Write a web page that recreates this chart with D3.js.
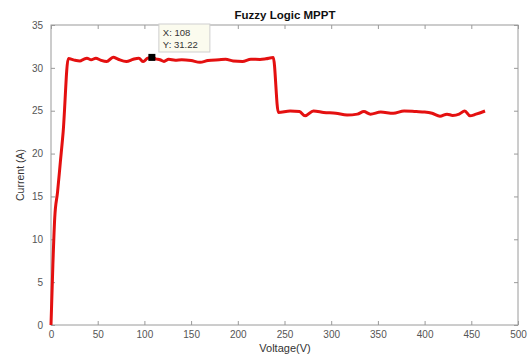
<!DOCTYPE html>
<html>
<head>
<meta charset="utf-8">
<script src="https://cdn.jsdelivr.net/npm/d3@7"></script>
<style>
  html, body { margin: 0; padding: 0; background: #fff; }
  svg { display: block; font-family: "Liberation Sans", Arial, sans-serif; }
</style>
</head>
<body>
<svg id="chart" width="531" height="354"></svg>
<script>
// Operating trajectory of the fuzzy-logic MPPT controller (current vs voltage)
const voltage = [0, 2, 4, 7, 10, 13, 18.5, 25, 31, 35, 38.5, 43, 48, 53, 59.6, 66.6, 72, 80.7, 88, 94, 98.8, 103, 108,
  112, 116.7, 121, 126, 133, 140, 150, 159.5, 168, 180, 187, 195, 205, 214, 223.8, 230, 238,
  243.4, 256, 266, 272, 281, 292, 305, 317, 328, 335, 342, 353, 366.5, 378, 391, 400, 408, 416.5, 424,
  430, 437, 443, 448.6, 455, 464.7];
const current = [0, 7, 12.5, 15.5, 19, 22.5, 31.1, 30.9, 30.8, 31.0, 31.12, 30.95, 31.12, 30.9, 30.73, 31.24, 31.0, 30.74, 31.0, 31.12, 30.73, 31.1, 31.22,
  31.05, 30.95, 30.75, 31.0, 30.9, 30.95, 30.85, 30.65, 30.85, 30.95, 31.0, 30.8, 30.75, 31.0, 30.98, 31.05, 31.2,
  24.8, 24.97, 24.9, 24.4, 24.97, 24.8, 24.7, 24.5, 24.6, 24.9, 24.6, 24.85, 24.7, 24.97, 24.9, 24.85, 24.7, 24.35, 24.6,
  24.45, 24.6, 24.97, 24.4, 24.6, 24.97];

const xTicks = [0, 50, 100, 150, 200, 250, 300, 350, 400, 450, 500];
const yTicks = [0, 5, 10, 15, 20, 25, 30, 35];
const tip = { v: 108, i: 31.22 };

const svg = d3.select("#chart");
const m = { left: 51, right: 13, top: 25, bottom: 29 };
const W = 531, H = 354;

const x = d3.scaleLinear().domain([0, 500]).range([m.left, W - m.right]);
const y = d3.scaleLinear().domain([0, 35]).range([H - m.bottom, m.top]);

const axisColor = "#9a9a9a";
const labelColor = "#555";

// frame
svg.append("rect")
  .attr("x", x(0)).attr("y", y(35))
  .attr("width", x(500) - x(0)).attr("height", y(0) - y(35))
  .attr("fill", "#fff").attr("stroke", axisColor).attr("stroke-width", 1);

function styleAxis(g, showText) {
  g.select(".domain").remove();
  g.selectAll(".tick line").attr("stroke", axisColor);
  g.selectAll(".tick text")
    .attr("fill", showText ? labelColor : "none")
    .attr("font-size", 10);
}

// inward ticks, MATLAB style
svg.append("g").attr("transform", `translate(0,${y(0)})`)
  .call(d3.axisBottom(x).tickValues(xTicks).tickSize(-4).tickPadding(6).tickFormat(d3.format("d")))
  .call(g => styleAxis(g, true));
svg.append("g").attr("transform", `translate(0,${y(35)})`)
  .call(d3.axisTop(x).tickValues(xTicks).tickSize(-4).tickFormat(""))
  .call(g => styleAxis(g, false));
svg.append("g").attr("transform", `translate(${x(0)},0)`)
  .call(d3.axisLeft(y).tickValues(yTicks).tickSize(-4).tickPadding(8).tickFormat(d3.format("d")))
  .call(g => styleAxis(g, true));
svg.append("g").attr("transform", `translate(${x(500)},0)`)
  .call(d3.axisRight(y).tickValues(yTicks).tickSize(-4).tickFormat(""))
  .call(g => styleAxis(g, false));

// curve
const pts = voltage.map((v, k) => [v, current[k]]);
svg.append("path")
  .datum(pts)
  .attr("fill", "none")
  .attr("stroke", "#e41010")
  .attr("stroke-width", 3)
  .attr("stroke-linejoin", "round")
  .attr("d", d3.line().x(d => x(d[0])).y(d => y(d[1])).curve(d3.curveMonotoneX));

// data tip
svg.append("rect")
  .attr("x", x(tip.v) - 3.5).attr("y", y(tip.i) - 3.5)
  .attr("width", 7).attr("height", 7).attr("fill", "#000");
const bx = x(tip.v) + 7, by = y(35) - 1;
svg.append("rect")
  .attr("x", bx).attr("y", by).attr("width", 51).attr("height", 28)
  .attr("fill", "#fbfbee").attr("stroke", "#cfcfcf");
svg.append("text").attr("x", bx + 4).attr("y", by + 12)
  .attr("font-size", 9.5).attr("fill", "#333").text(`X: ${tip.v}`);
svg.append("text").attr("x", bx + 4).attr("y", by + 24)
  .attr("font-size", 9.5).attr("fill", "#333").text(`Y: ${tip.i.toFixed(2)}`);

// titles
svg.append("text").attr("x", 285).attr("y", 19).attr("text-anchor", "middle")
  .attr("font-size", 11.5).attr("font-weight", "bold").attr("fill", "#111")
  .text("Fuzzy Logic MPPT");
svg.append("text").attr("x", 285).attr("y", 351.5).attr("text-anchor", "middle")
  .attr("font-size", 11).attr("fill", "#333").text("Voltage(V)");
svg.append("text")
  .attr("transform", `translate(24,${(y(0) + y(35)) / 2}) rotate(-90)`)
  .attr("text-anchor", "middle").attr("font-size", 10.5).attr("fill", "#333")
  .text("Current (A)");
</script>
</body>
</html>
